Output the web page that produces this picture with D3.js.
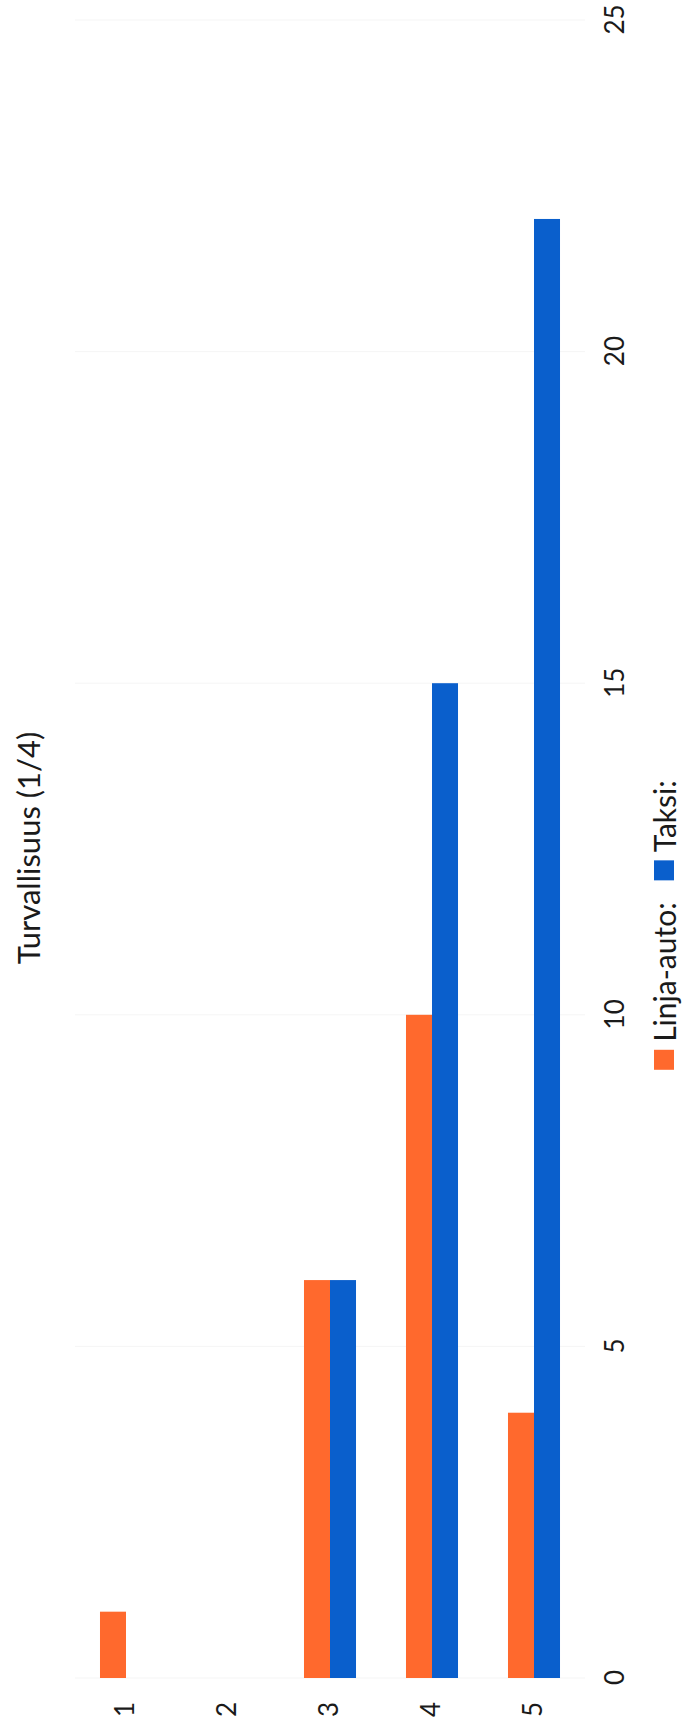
<!DOCTYPE html>
<html>
<head>
<meta charset="utf-8">
<script src="https://cdn.jsdelivr.net/npm/d3@7"></script>
<style>
  html, body { margin: 0; padding: 0; background: #ffffff; }
  svg { display: block; }
  text { font-family: Lato, "Noto Sans", "Liberation Sans", sans-serif; fill: #1a1a1a; }
</style>
</head>
<body>
<div id="chart"></div>
<script>
// ---- data ----
const categories = ["1", "2", "3", "4", "5"];
const seriesNames = ["Linja-auto:", "Taksi:"];
const linjaAuto = [1, 0, 6, 10, 4];
const taksi = [0, 0, 6, 15, 22];
const valueTicks = [0, 5, 10, 15, 20, 25];
const titleText = "Turvallisuus (1/4)";
const seriesColors = ["#ff692d", "#0a5fcc"];

// ---- layout (page is 697 x 1726, chart drawn in a frame rotated -90deg) ----
const pageW = 697, pageH = 1726;

const svg = d3.select("#chart").append("svg")
  .attr("width", pageW).attr("height", pageH);

const g = svg.append("g")
  .attr("transform", `translate(0,${pageH}) rotate(-90)`);

const x = d3.scaleLinear().domain([0, 25]).range([48, 1706]);
const y = d3.scaleBand().domain(categories).range([75, 585])
  .paddingInner(0.49).paddingOuter(0.245);
const ySub = d3.scaleBand().domain(seriesNames).range([0, y.bandwidth()]);
const color = d3.scaleOrdinal().domain(seriesNames).range(seriesColors);

const rows = categories.map((c, i) => ({
  cat: c,
  values: [
    { name: seriesNames[0], value: linjaAuto[i] },
    { name: seriesNames[1], value: taksi[i] }
  ]
}));

// faint gridlines
g.append("g").selectAll("line").data(valueTicks).join("line")
  .attr("x1", d => x(d)).attr("x2", d => x(d))
  .attr("y1", 75).attr("y2", 585)
  .attr("stroke", "#f5f5f5").attr("stroke-width", 1);

// bars
g.append("g").selectAll("g").data(rows).join("g")
  .attr("transform", d => `translate(0,${y(d.cat)})`)
  .selectAll("rect").data(d => d.values.filter(v => v.value > 0)).join("rect")
  .attr("x", x(0))
  .attr("y", d => ySub(d.name))
  .attr("width", d => x(d.value) - x(0))
  .attr("height", ySub.bandwidth())
  .attr("fill", d => color(d.name));

// value axis labels (bottom of unrotated chart)
const xAxis = d3.axisBottom(x).tickValues(valueTicks).tickSize(0).tickPadding(0);
const xAxisG = g.append("g").attr("transform", "translate(0,606)").call(xAxis);
xAxisG.select(".domain").remove();
xAxisG.selectAll("text")
  .attr("dy", "0.71em")
  .style("font-family", "Lato, 'Noto Sans', sans-serif")
  .style("font-size", "26px").style("fill", "#1a1a1a");

// category axis labels
const yAxis = d3.axisLeft(y).tickSize(0).tickPadding(0);
const yAxisG = g.append("g").attr("transform", "translate(24,0)").call(yAxis);
yAxisG.select(".domain").remove();
yAxisG.selectAll("text")
  .style("font-family", "Lato, 'Noto Sans', sans-serif")
  .style("font-size", "26px").style("fill", "#1a1a1a");

// title
g.append("text")
  .attr("x", 878).attr("y", 28)
  .attr("text-anchor", "middle").attr("dominant-baseline", "central")
  .style("font-size", "31px")
  .text(titleText);

// legend
const legend = g.append("g").attr("transform", "translate(0,664)");
const items = [];
seriesNames.forEach((name) => {
  const it = legend.append("g");
  it.append("rect").attr("x", 0).attr("y", -10).attr("width", 20).attr("height", 20)
    .attr("fill", color(name));
  const t = it.append("text").attr("x", 28).attr("y", 0)
    .attr("dominant-baseline", "central").style("font-size", "30px").text(name);
  const w = 28 + t.node().getComputedTextLength();
  items.push({ it, w });
});
const gap = 22;
const total = d3.sum(items, d => d.w) + gap * (items.length - 1);
let start = 801 - total / 2;
items.forEach(d => {
  d.it.attr("transform", `translate(${start},0)`);
  start += d.w + gap;
});
</script>
</body>
</html>
